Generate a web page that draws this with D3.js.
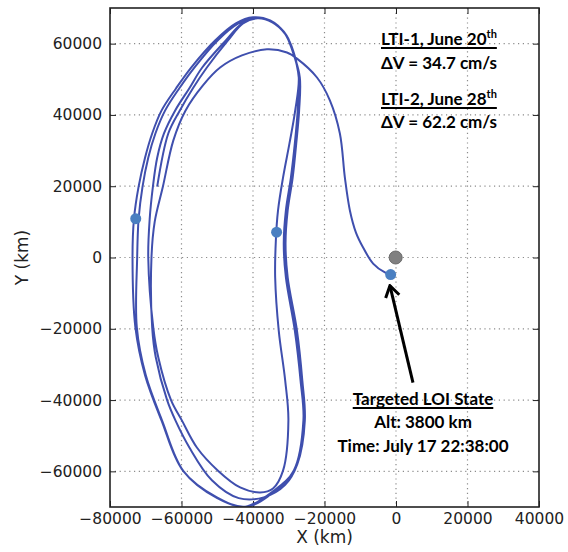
<!DOCTYPE html>
<html>
<head>
<meta charset="utf-8">
<script src="https://cdn.jsdelivr.net/npm/d3@7"></script>
<style>
  body { margin: 0; background: #fff; }
  svg { display: block; }
  .tick text { font-family: 'DejaVu Sans', sans-serif; font-size: 15.5px; fill: #222; }
  .axis-label { font-family: 'DejaVu Sans', sans-serif; font-size: 17px; fill: #222; }
  .note { font-family: Lato, 'Open Sans', sans-serif; font-weight: bold; font-size: 17px; fill: #000; }
</style>
</head>
<body>
<svg id="chart" width="568" height="552"></svg>
<script>
const xTicks = [-80000, -60000, -40000, -20000, 0, 20000, 40000];
const yTicks = [-60000, -40000, -20000, 0, 20000, 40000, 60000];
const xDomain = [-80000, 40000];
const yDomain = [-70000, 70000];

// trajectory, km, one array per lap (clockwise)
const lap1 = [
  [-66800, 19900], [-63700, 34800], [-60500, 41200], [-56800, 47500], [-52900, 53300],
  [-47000, 60900], [-42800, 65700], [-38800, 67100], [-34600, 66000], [-30900, 62600],
  [-28800, 57800], [-27200, 50500], [-27500, 41200], [-28300, 32000], [-29400, 22400],
  [-30800, 13200], [-31400, 3900], [-30800, -5600], [-28300, -20500], [-26700, -34500],
  [-25900, -45700], [-28600, -59800], [-34300, -65500], [-42200, -69900], [-50100, -67300],
  [-59600, -59800], [-65600, -45700], [-70200, -33000], [-72900, -19600], [-73700, 0]
];
const lap2 = [
  [-73300, 10800], [-72000, 19900], [-70200, 28000], [-68200, 34800], [-65600, 41200],
  [-61500, 47500], [-57300, 53300], [-50600, 60900], [-44800, 65700], [-40000, 67400],
  [-35200, 66500], [-31100, 62900], [-29000, 58100], [-27000, 50500], [-27300, 41200],
  [-28100, 32000], [-29200, 22400], [-30600, 13200], [-31200, 3900], [-30600, -5600],
  [-28000, -20500], [-26500, -34500], [-25700, -45700], [-28400, -59800], [-34000, -65700],
  [-42000, -70000], [-50000, -67500], [-59400, -60000], [-65400, -45800], [-70000, -33000],
  [-72500, -19600], [-72400, 0]
];
const lap3 = [
  [-72000, 10800], [-70900, 19900], [-69300, 28000], [-67300, 34800], [-64600, 41200],
  [-60600, 47500], [-56400, 53300], [-49900, 60900], [-44200, 65600], [-39500, 67300],
  [-35000, 66300], [-30900, 62600], [-28700, 57800], [-27200, 50500], [-28200, 41200],
  [-29800, 32000], [-31600, 22400], [-33000, 13200], [-33600, 5000], [-33800, -5600],
  [-32800, -20500], [-31000, -34500], [-30100, -45700], [-31600, -59800], [-34400, -64800],
  [-38000, -65900], [-43600, -64500], [-49800, -59800], [-55700, -53300], [-59900, -45700],
  [-62900, -40100], [-66500, -28000], [-67900, -19600], [-69300, 0]
];
const lap4 = [
  [-68900, 10800], [-68000, 19900], [-66800, 28000], [-64900, 34800], [-61800, 41200],
  [-57800, 47500], [-54200, 53300], [-47600, 60900], [-43000, 65700], [-38700, 67100],
  [-34300, 65900], [-30600, 62300], [-28500, 56700], [-26900, 50500], [-27100, 41200],
  [-27900, 32000], [-28900, 22400], [-30300, 13200], [-30900, 3900], [-30300, -5600],
  [-27700, -20500], [-26200, -34500], [-25500, -45700], [-27600, -58000], [-31000, -63800],
  [-37000, -67300], [-44000, -67500], [-51500, -62500], [-57800, -53300], [-61700, -45700],
  [-64000, -40100], [-67200, -28000], [-68200, -19600], [-68400, 0]
];
const finalArc = [
  [-67500, 10000], [-65200, 19900], [-62300, 32800], [-58900, 41200], [-54000, 48300],
  [-49200, 53300], [-43100, 56700], [-36100, 58400], [-30500, 57500], [-27700, 55800],
  [-22100, 50500], [-18500, 44100], [-15700, 34800], [-14300, 22400], [-12900, 13200],
  [-11200, 7000], [-9200, 2800], [-6400, -1700], [-3100, -4200], [-1500, -4800]
];
// LTI-1, LTI-2, LOI state
const burns = [[-72800, 10900], [-33400, 7100], [-1500, -4800]];
const moon = [-100, 0];
const arrowFrom = [4750, -35100];
const arrowTo = [-1700, -7900];

const svg = d3.select('#chart');
const margin = {top: 8, right: 29, bottom: 45, left: 110};
const width = 568 - margin.left - margin.right;
const height = 552 - margin.top - margin.bottom;
const g = svg.append('g').attr('transform', `translate(${margin.left},${margin.top})`);

const x = d3.scaleLinear().domain(xDomain).range([0, width]);
const y = d3.scaleLinear().domain(yDomain).range([height, 0]);

svg.append('defs').append('clipPath').attr('id', 'plot-clip')
  .append('rect').attr('width', width).attr('height', height);

// dotted grid
const grid = g.append('g').attr('stroke', '#8c8c8c').attr('stroke-width', 1.2).attr('stroke-dasharray', '1.2,3.6');
grid.selectAll('.gx').data(xTicks.slice(1, -1)).join('line')
  .attr('x1', (d) => x(d)).attr('x2', (d) => x(d)).attr('y1', 0).attr('y2', height);
grid.selectAll('.gy').data(yTicks).join('line')
  .attr('y1', (d) => y(d)).attr('y2', (d) => y(d)).attr('x1', 0).attr('x2', width);

// axes, matplotlib style: inward ticks on all four sides
const fmt = d3.format('d');
function styleAxis(sel) {
  sel.select('.domain').remove();
  sel.selectAll('.tick line').attr('stroke', '#222').attr('stroke-width', 1);
}
g.append('g').attr('transform', `translate(0,${height})`)
  .call(d3.axisBottom(x).tickValues(xTicks).tickFormat(fmt).tickSizeInner(-6).tickSizeOuter(0).tickPadding(6))
  .call(styleAxis);
g.append('g')
  .call(d3.axisLeft(y).tickValues(yTicks).tickFormat(fmt).tickSizeInner(-6).tickSizeOuter(0).tickPadding(8))
  .call(styleAxis);
g.append('g')
  .call(d3.axisTop(x).tickValues(xTicks).tickFormat('').tickSizeInner(-6).tickSizeOuter(0))
  .call(styleAxis);
g.append('g').attr('transform', `translate(${width},0)`)
  .call(d3.axisRight(y).tickValues(yTicks).tickFormat('').tickSizeInner(-6).tickSizeOuter(0))
  .call(styleAxis);

g.selectAll('.tick text').attr('fill', '#222');

// trajectory
const traj = [].concat(lap1, lap2, lap3, lap4, finalArc);
const line = d3.line()
  .x((d) => x(d[0]))
  .y((d) => y(d[1]))
  .curve(d3.curveCatmullRom.alpha(0.5));

const plot = g.append('g').attr('clip-path', 'url(#plot-clip)');
plot.append('path')
  .datum(traj)
  .attr('fill', 'none')
  .attr('stroke', '#3f4fae')
  .attr('stroke-width', 2)
  .attr('d', line);

plot.append('circle')
  .attr('cx', x(moon[0])).attr('cy', y(moon[1])).attr('r', 6.5)
  .attr('fill', '#808080').attr('stroke', '#6a6a6a').attr('stroke-width', 1);

plot.selectAll('.burn').data(burns).join('circle')
  .attr('cx', (d) => x(d[0])).attr('cy', (d) => y(d[1])).attr('r', 5.5)
  .attr('fill', '#4a7fc1');

// frame
g.append('rect').attr('width', width).attr('height', height)
  .attr('fill', 'none').attr('stroke', '#222').attr('stroke-width', 1.6);

// axis titles
svg.append('text').attr('class', 'axis-label')
  .attr('x', margin.left + width / 2).attr('y', 543).attr('text-anchor', 'middle')
  .text('X (km)');
svg.append('text').attr('class', 'axis-label')
  .attr('transform', `translate(28,${margin.top + height / 2}) rotate(-90)`)
  .attr('text-anchor', 'middle')
  .text('Y (km)');

// arrow to the LOI state
svg.select('defs').append('marker')
  .attr('id', 'head').attr('markerUnits', 'userSpaceOnUse')
  .attr('viewBox', '-14 -9 16 18').attr('markerWidth', 16).attr('markerHeight', 18)
  .attr('refX', 0).attr('refY', 0).attr('orient', 'auto')
  .append('path').attr('d', 'M-11,-7L0,0L-11,7')
  .attr('fill', 'none').attr('stroke', '#000').attr('stroke-width', 3);
g.append('line')
  .attr('x1', x(arrowFrom[0])).attr('y1', y(arrowFrom[1]))
  .attr('x2', x(arrowTo[0])).attr('y2', y(arrowTo[1]))
  .attr('stroke', '#000').attr('stroke-width', 3)
  .attr('marker-end', 'url(#head)');

// notes
function note(px, py, text, opts = {}) {
  const t = svg.append('text').attr('class', 'note')
    .attr('x', px).attr('y', py)
    .attr('text-anchor', opts.anchor || 'start');
  t.append('tspan').text(text);
  if (opts.sup) t.append('tspan').attr('dy', -7).attr('font-size', 11).text(opts.sup);
  if (opts.underline) {
    const b = t.node().getBBox();
    svg.append('line')
      .attr('x1', b.x).attr('x2', b.x + b.width)
      .attr('y1', py + 3).attr('y2', py + 3)
      .attr('stroke', '#000').attr('stroke-width', 2);
  }
}

note(381, 45, 'LTI-1, June 20', {sup: 'th', underline: true});
note(381, 69, 'ΔV = 34.7 cm/s');
note(381, 105, 'LTI-2, June 28', {sup: 'th', underline: true});
note(381, 128, 'ΔV = 62.2 cm/s');

note(423, 405, 'Targeted LOI State', {anchor: 'middle', underline: true});
note(423, 428, 'Alt: 3800 km', {anchor: 'middle'});
note(423, 452, 'Time: July 17 22:38:00', {anchor: 'middle'});
</script>
</body>
</html>
